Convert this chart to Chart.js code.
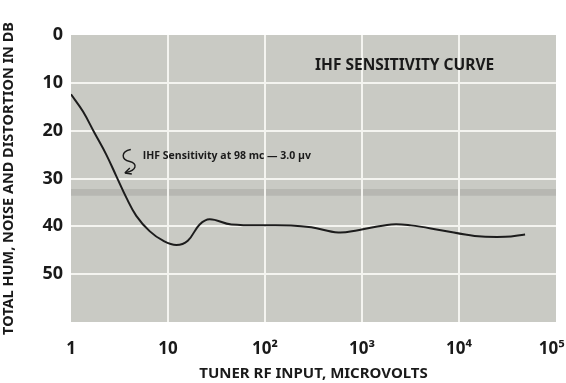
<!DOCTYPE html>
<html><head><meta charset="utf-8">
<script src="https://cdn.jsdelivr.net/npm/chart.js@4"></script>
<style>html,body{margin:0;padding:0;background:#fff}#wrap{width:566px;height:383px}</style>
</head><body><div id="wrap"><canvas id="c" width="566" height="383"></canvas></div>
<script>
const inputMicrovolts = [1, 1.33, 1.75, 2.31, 2.93, 3.72, 4.71, 6.46, 8.9, 12.2, 16, 21.2, 26.9, 45, 185, 300, 570, 910, 2000, 3200, 6500, 14500, 30000, 48000];
const distortionDb    = [12.4, 16, 20.5, 25, 29.5, 34, 37.8, 41, 43, 43.9, 43, 39.6, 38.5, 39.6, 39.8, 40.2, 41.3, 40.8, 39.6, 39.8, 40.8, 42, 42.2, 41.7];
const xTickValues = [1, 10, 100, 1000, 10000, 100000];
const xTickLabels = ['1', '10', '10²', '10³', '10⁴', '10⁵\u2002'];
const yTickValues = [0, 10, 20, 30, 40, 50];
const titleText = 'IHF SENSITIVITY CURVE';
const noteText = 'IHF Sensitivity at 98 mc — 3.0 µv';

const F = '"Noto Sans", "Open Sans", sans-serif';

const deco = {
  id: 'deco',
  beforeDraw(chart) {
    const {ctx, chartArea: a, scales: {y}} = chart;
    ctx.save();
    ctx.fillStyle = '#c9cac4';
    ctx.fillRect(a.left, a.top, a.right - a.left, a.bottom - a.top);
    ctx.fillStyle = 'rgba(120,120,115,0.22)';
    const y1 = y.getPixelForValue(32.2), y2 = y.getPixelForValue(33.6);
    ctx.fillRect(a.left, y1, a.right - a.left, y2 - y1);
    ctx.restore();
  },
  afterDraw(chart) {
    const {ctx, scales: {x, y}} = chart;
    ctx.save();
    ctx.fillStyle = '#1a1a1a';
    ctx.font = 'bold 15.5px ' + F;
    ctx.textAlign = 'center';
    ctx.textBaseline = 'middle';
    ctx.fillText(titleText, x.getPixelForValue(2750), y.getPixelForValue(6.4));
    ctx.font = 'bold 10.5px "Open Sans", sans-serif';
    ctx.textAlign = 'left';
    const nx = x.getPixelForValue(5.5), ny = y.getPixelForValue(25.2);
    ctx.fillText(noteText, nx, ny);
    ctx.strokeStyle = '#1a1a1a';
    ctx.lineWidth = 1.4;
    ctx.beginPath();
    ctx.moveTo(nx - 12, ny - 6);
    ctx.bezierCurveTo(nx - 22, ny - 4, nx - 22, ny + 4, nx - 13, ny + 6);
    ctx.bezierCurveTo(nx - 5, ny + 8, nx - 6, ny + 15, nx - 17, ny + 17);
    ctx.stroke();
    ctx.beginPath();
    ctx.moveTo(nx - 18, ny + 17.5);
    ctx.lineTo(nx - 13, ny + 12.5);
    ctx.moveTo(nx - 18, ny + 17.5);
    ctx.lineTo(nx - 11, ny + 18.5);
    ctx.stroke();
    ctx.restore();
  }
};

new Chart(document.getElementById('c'), {
  type: 'line',
  data: {
    datasets: [{
      data: inputMicrovolts.map((v, i) => ({x: v, y: distortionDb[i]})),
      borderColor: '#1c1c1c',
      borderWidth: 2,
      pointRadius: 0,
      tension: 0.4,
      fill: false
    }]
  },
  options: {
    responsive: false,
    animation: false,
    layout: {padding: {top: 35, right: 10, left: 0, bottom: 0}},
    plugins: {legend: {display: false}, tooltip: {enabled: false}},
    scales: {
      x: {
        type: 'logarithmic', min: 1, max: 100000,
        afterBuildTicks: s => { s.ticks = xTickValues.map(v => ({value: v})); },
        afterFit: s => { s.height = 61; s.paddingLeft = 0; s.paddingRight = 0; },
        border: {display: false},
        grid: {
          color: c => (c.tick && (c.tick.value === 1 || c.tick.value === 100000)) ? 'rgba(0,0,0,0)' : '#f4f4f0',
          lineWidth: 2, drawTicks: false
        },
        ticks: {
          color: '#1a1a1a', padding: 17, maxRotation: 0, autoSkip: false,
          font: {family: F, size: 17, weight: 'bold'},
          callback: (v) => { const i = xTickValues.indexOf(v); return i >= 0 ? xTickLabels[i] : ''; }
        },
        title: {display: true, text: 'TUNER RF INPUT, MICROVOLTS', color: '#1a1a1a',
          font: {family: F, size: 15, weight: 'bold'}, padding: {top: 0, bottom: 0}}
      },
      y: {
        reverse: true, min: 0, max: 60,
        afterBuildTicks: s => { s.ticks = yTickValues.concat([60]).map(v => ({value: v})); },
        afterFit: s => { s.width = 71; },
        border: {display: false},
        grid: {
          color: c => (c.tick && (c.tick.value === 0 || c.tick.value === 60)) ? 'rgba(0,0,0,0)' : '#f4f4f0',
          lineWidth: 2, drawTicks: false
        },
        ticks: {
          color: '#1a1a1a', padding: 8,
          font: {family: F, size: 18, weight: 'bold'},
          callback: v => yTickValues.includes(v) ? String(v) : ''
        },
        title: {display: true, text: 'TOTAL HUM, NOISE AND DISTORTION IN DB', color: '#1a1a1a',
          font: {family: F, size: 14.5, weight: 'bold'}, padding: {top: 0, bottom: 4}}
      }
    }
  },
  plugins: [deco]
});
</script></body></html>
